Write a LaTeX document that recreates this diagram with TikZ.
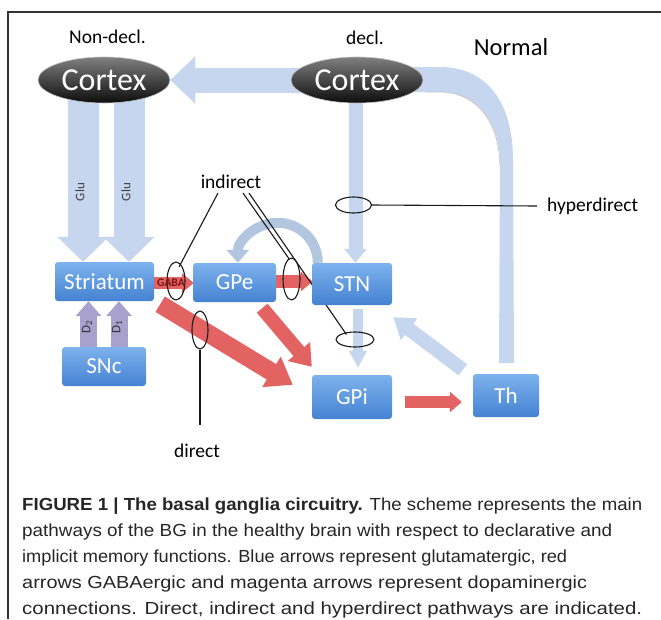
\documentclass[tikz,border=0pt]{standalone}
\usepackage{fontspec}
\usepackage{graphicx}
\setmainfont{Carlito}
\newfontfamily\capfont{Liberation Sans}
\usetikzlibrary{shapes.geometric,arrows.meta,calc}
\pgfdeclarelayer{background}
\pgfsetlayers{background,main}
\definecolor{lblue}{HTML}{C6D6EE}
\definecolor{curvec}{HTML}{B3C6E0}
\definecolor{redarr}{HTML}{E36262}
\definecolor{purp}{HTML}{A9A1CD}
\definecolor{boxtop}{HTML}{7DB2EC}
\definecolor{boxbot}{HTML}{4582D2}
\definecolor{gabac}{HTML}{7A1414}
\definecolor{framec}{HTML}{333333}
\newsavebox\fitbox
\newcommand\fitline[2]{\sbox\fitbox{#2}\pgfmathsetmacro\fitsx{#1/\the\wd\fitbox}\scalebox{\fitsx}[1]{\usebox\fitbox}}
\begin{document}
\begin{tikzpicture}[x=1pt,y=-1pt,
  lab/.style={font=\fontsize{19.5}{22}\selectfont, inner sep=0pt},
  cortex/.style={ellipse, minimum width=132pt, minimum height=46pt, inner sep=0pt,
     top color=black!50, middle color=black!80, bottom color=black!95,
     draw=black!25, line width=0.6pt, text=white, font=\fontsize{32}{36}\selectfont},
  bbox/.style={rounded corners=3pt, top color=boxtop, bottom color=boxbot,
     text=white, font=\fontsize{23}{26}\selectfont, inner sep=0pt},
  gluarr/.style={draw=lblue, line width=31pt, -{Triangle[width=50pt,length=25pt]}},
  purparr/.style={draw=purp, line width=17pt, -{Triangle[width=25pt,length=15pt]}},
  ann/.style={draw=black!90, line width=1.1pt},
  annell/.style={ellipse, draw=black!90, line width=1.1pt, inner sep=0pt},
  small/.style={font=\fontsize{13}{15}\selectfont, text=black!75, inner sep=0pt},
  capline/.style={anchor=base west, inner sep=0pt, font=\capfont\fontsize{17.5}{20}\selectfont, text=black!85}
]
\useasboundingbox (0,0) rectangle (661,619);
\draw[framec, line width=1.2pt] (8,619) -- (8,12) -- (661,12);

% ---- main nodes
\node[cortex] (cortexL) at (104,80) {Cortex};
\node[cortex] (cortexR) at (357,80) {Cortex};
\node[lab] (nondecl) at (107.5,37) {Non-decl.};
\node[lab] (decl) at (365,38) {decl.};
\node[font=\fontsize{24.5}{28}\selectfont, inner sep=0pt] (normal) at (511,47) {Normal};

\node[bbox, minimum width=99pt, minimum height=39pt] (striatum) at (104.5,281.5) {Striatum};
\node[bbox, minimum width=83pt, minimum height=39pt] (gpe) at (234.5,282.5) {GPe};
\node[bbox, minimum width=80pt, minimum height=42pt] (stn) at (352,284) {STN};
\node[bbox, minimum width=84pt, minimum height=39pt] (snc) at (104,366.5) {SNc};
\node[bbox, minimum width=80pt, minimum height=44pt] (gpi) at (352,397) {GPi};
\node[bbox, minimum width=66pt, minimum height=43pt] (th) at (506,395.5) {Th};

% ---- annotation ellipses and labels
\node[annell, minimum width=18pt, minimum height=38pt] (eGaba) at (176,281) {};
\node[annell, minimum width=17pt, minimum height=42pt] (eInd) at (291.5,279) {};
\node[annell, minimum width=16pt, minimum height=38pt] (eDir) at (200,330) {};
\node[annell, minimum width=36pt, minimum height=16pt] (eHyp) at (353.5,205) {};
\node[annell, minimum width=38pt, minimum height=15pt] (eGpi) at (355,339.5) {};
\node[lab] (indirect) at (231,182) {indirect};
\node[lab, anchor=west] (hyper) at (547,206) {hyperdirect};
\node[lab] (direct) at (197,451) {direct};

\begin{pgfonlayer}{background}
  % Normal band (Th -> decl. cortex)
  \fill[lblue] (400,67) -- (440,67) .. controls (485,67) and (513,100) .. (513,160)
     -- (514,363) -- (499,363) -- (500,160) .. controls (499,120) and (475,92) .. (440,92)
     -- (400,92) -- cycle;
  \draw[black!22, line width=0.8pt] (500,165) .. controls (499,120) and (475,92) .. (440,92) -- (425,92);
  % cortex -> cortex
  \draw[draw=lblue, line width=25pt, -{Triangle[width=46pt,length=25pt]}] (cortexR.center) -- (cortexL.east);
  % Glu arrows
  \draw[gluarr] ($(cortexL.center)+(-21,0)$) -- ($(striatum.north)+(-21.5,0)$);
  \draw[gluarr] ($(cortexL.center)+(25,0)$) -- ($(striatum.north)+(24.5,0)$);
  % cortex -> STN
  \draw[draw=lblue, line width=14pt, -{Triangle[width=22pt,length=14pt]}] ($(cortexR.center)+(-1.5,0)$) -- ($(stn.north)+(3.5,0)$);
  % STN -> GPe curved
  \draw[draw=curvec, line width=10pt, -{Triangle[width=22pt,length=13pt]}] ($(stn.north west)+(6,0)$) arc[start angle=0, end angle=180, radius=40pt];
  % STN -> GPi
  \draw[draw=lblue, line width=10pt, -{Triangle[width=17pt,length=17pt]}] ($(stn.south)+(6,4)$) -- ($(gpi.north)+(6,-7)$);
  % Th -> STN
  \draw[draw=lblue, line width=14pt, -{Triangle[width=26pt,length=20pt]}] ($(th.north west)+(-10,-4)$) -- ($(stn.south east)+(1,12)$);
  % red arrows
  \draw[draw=redarr, line width=12pt, -{Triangle[width=19pt,length=12pt]}] ($(striatum.east)+(0,1.5)$) -- ($(gpe.west)+(1,0.5)$);
  \draw[draw=redarr, line width=13pt, -{Triangle[width=19pt,length=12pt]}] ($(gpe.east)+(0,-1)$) -- ($(stn.west)+(1,-2.5)$);
  \draw[draw=redarr, line width=18pt, -{Triangle[width=34pt,length=25pt]}] ($(striatum.south east)+(6,3)$) -- ($(gpi.north west)+(-19,10)$);
  \draw[draw=redarr, line width=14pt, -{Triangle[width=28pt,length=20pt]}] ($(gpe.south east)+(-14,6)$) -- ($(gpi.north west)+(0,-8)$);
  \draw[draw=redarr, line width=12pt, -{Triangle[width=20pt,length=12pt]}] ($(gpi.east)+(13,5)$) -- ($(th.west)+(-11,6.5)$);
  % dopamine
  \draw[purparr] ($(snc.north)+(-15.5,0)$) -- ($(striatum.south)+(-16,0)$);
  \draw[purparr] ($(snc.north)+(15,0)$) -- ($(striatum.south)+(14.5,0)$);
  % pathway lines
  \draw[ann] ($(indirect.south)+(-13,4)$) -- ($(eGaba.center)+(3,-14)$);
  \draw[ann] ($(indirect.south)+(12,4)$) -- ($(eInd.north)+(-2,2)$);
  \draw[ann] ($(indirect.south)+(18,4)$) -- ($(eGpi.west)+(11,-5)$);
\end{pgfonlayer}

\draw[ann] (eDir.south) -- ++(0,75);
\draw[ann] (eHyp.east) -- ($(hyper.west)+(-10,0)$);

% arrow labels
\node[small, rotate=90] (glu1) at (80,192) {Glu};
\node[small, rotate=90] (glu2) at (126,192) {Glu};
\node[small, rotate=90, text=black!80] (d2) at (87,327) {D\textsubscript{2}};
\node[small, rotate=90, text=black!80] (d1) at (117,327) {D\textsubscript{1}};
\node[font=\bfseries\fontsize{11.5}{13}\selectfont, text=gabac, inner sep=0pt] (gaba) at (171,283) {GABA};

% caption
\node[capline] (cap1) at (22,510) {\fitline{620}{\textbf{FIGURE 1 | The basal ganglia circuitry.} The scheme represents the main}};
\node[capline] (cap2) at (22,536) {\fitline{590}{pathways of the BG in the healthy brain with respect to declarative and}};
\node[capline] (cap3) at (22,562) {\fitline{545}{implicit memory functions. Blue arrows represent glutamatergic, red}};
\node[capline] (cap4) at (22,588) {\fitline{565}{arrows GABAergic and magenta arrows represent dopaminergic}};
\node[capline] (cap5) at (22,614) {\fitline{620}{connections. Direct, indirect and hyperdirect pathways are indicated.}};
\end{tikzpicture}
\end{document}
